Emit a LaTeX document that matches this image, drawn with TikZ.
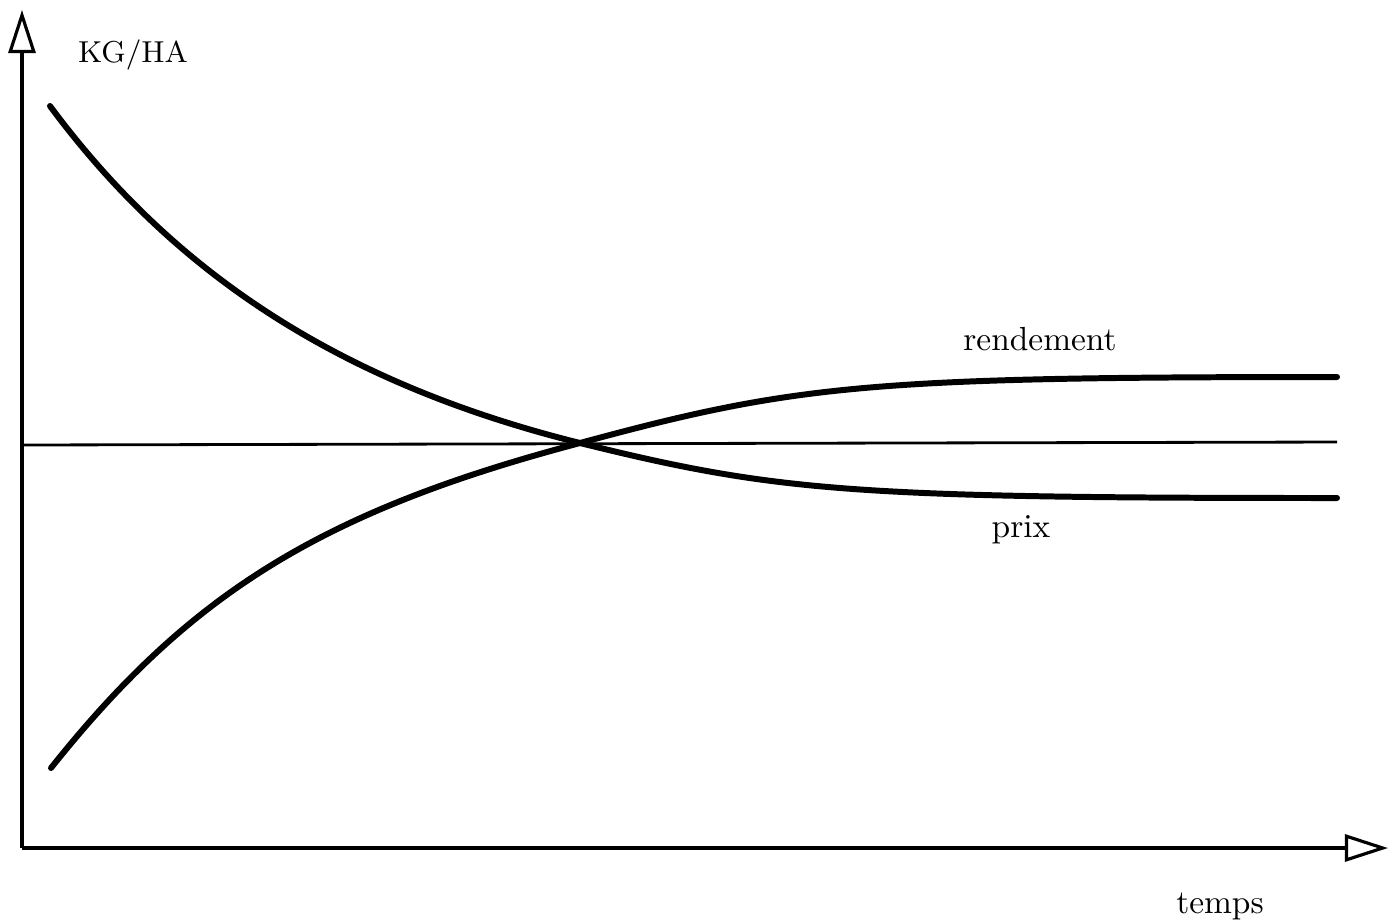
\documentclass[tikz,border=0pt]{standalone}
\usepackage{amsmath}
\usepackage{tikz}
\usetikzlibrary{arrows.meta, positioning}

\tikzset{
    axis/.style={line width=0.9pt, -{Triangle[open, length=0.43cm, width=0.27cm, line width=0.9pt]}},
    curve/.style={line width=1.7pt, line cap=round},
    label/.style={font=\fontsize{9.5}{11}\selectfont, inner sep=0pt}
}

\begin{document}
\begin{tikzpicture}[x=0.01cm, y=-0.01cm]
    \useasboundingbox (0,0) rectangle (1399,923);

    % Axes
    \coordinate (origin) at (22,848);
    \coordinate (ytip) at (22,10);
    \coordinate (xtip) at (1388,848);
    \draw[axis] (origin) -- (ytip);
    \draw[axis] (origin) -- (xtip);

    % Reference level
    \coordinate (levelL) at (22,445);
    \coordinate (levelR) at (1337,442);
    \draw[line width=0.8pt] (levelL) -- (levelR);

    % Crossing point
    \coordinate (cross) at (580,443);

    % Prix
    \coordinate (prixA) at (50,106);
    \coordinate (prixB) at (1337,498);
    \draw[curve] (prixA) .. controls (176,276) and (343,384) .. (cross)
        .. controls (778,492) and (854,498) .. (prixB);

    % Rendement
    \coordinate (rendA) at (51,768);
    \coordinate (rendB) at (1337,377);
    \draw[curve] (rendA) .. controls (191,592) and (323,511) .. (cross)
        .. controls (797,384) and (872,377) .. (rendB);

    % Labels
    \node[label, font=\fontsize{8.6}{10}\selectfont] (unit) at (133,55) {KG/HA};
    \node[label] (rendement) at (1040,339) {rendement};
    \node[label] (prix) at (1021,530) {prix};
    \node[label] (temps) at (1220,906) {temps};
\end{tikzpicture}
\end{document}
